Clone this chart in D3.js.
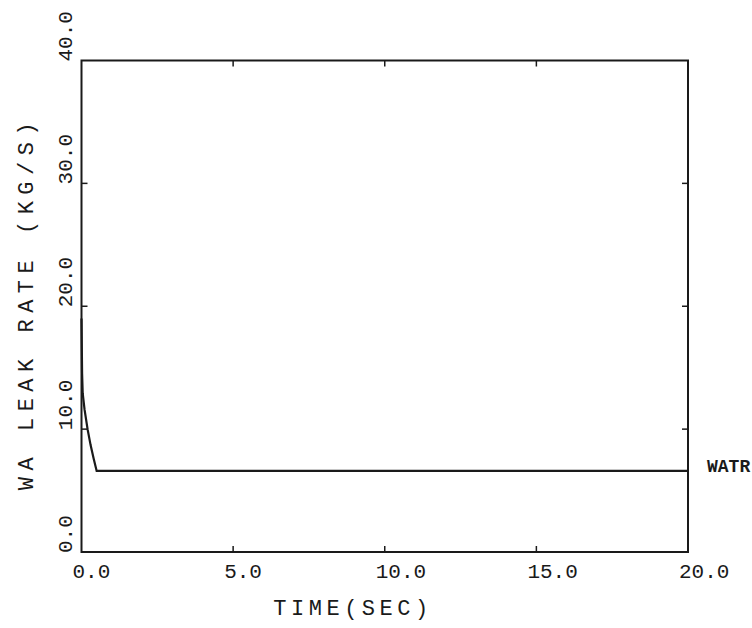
<!DOCTYPE html>
<html>
<head>
<meta charset="utf-8">
<script src="https://cdn.jsdelivr.net/npm/d3@7"></script>
<style>
  body { margin: 0; background: #fff; }
  svg { display: block; }
  text { font-family: "Liberation Mono", "DejaVu Sans Mono", monospace; fill: #1a1a1a; }
</style>
</head>
<body>
<div id="chart"></div>
<script>
// time (s) and water leak rate (kg/s)
var timeSec = [0.0, 0.02, 0.04, 0.1, 0.2, 0.3, 0.4, 0.5, 1.0, 5.0, 10.0, 15.0, 20.0];
var leakRate = [19.0, 14.5, 12.9, 11.6, 10.0, 8.7, 7.6, 6.6, 6.6, 6.6, 6.6, 6.6, 6.6];
var xTicks = [0, 5, 10, 15, 20];
var yTicks = [0, 10, 20, 30, 40];
var seriesName = "WATR";

var W = 752, H = 628;
var pLeft = 81.5, pRight = 688, pTop = 60.5, pBottom = 552;

var svg = d3.select("#chart").append("svg")
    .attr("width", W)
    .attr("height", H);

var x = d3.scaleLinear().domain([0, 20]).range([pLeft, pRight]);
var y = d3.scaleLinear().domain([0, 40]).range([pBottom, pTop]);

var ink = "#1a1a1a";

// frame
svg.append("rect")
    .attr("x", pLeft).attr("y", pTop)
    .attr("width", pRight - pLeft).attr("height", pBottom - pTop)
    .attr("fill", "none").attr("stroke", ink).attr("stroke-width", 2);

// inward ticks on all four sides
var tl = 6;
var innerY = yTicks.slice(1, -1);
svg.selectAll(".ytl").data(innerY).enter().append("line")
    .attr("x1", pLeft).attr("x2", pLeft + tl)
    .attr("y1", d => y(d)).attr("y2", d => y(d))
    .attr("stroke", ink).attr("stroke-width", 1.5);
svg.selectAll(".ytr").data(innerY).enter().append("line")
    .attr("x1", pRight).attr("x2", pRight - tl)
    .attr("y1", d => y(d)).attr("y2", d => y(d))
    .attr("stroke", ink).attr("stroke-width", 1.5);
var innerX = xTicks.slice(1, -1);
svg.selectAll(".xtb").data(innerX).enter().append("line")
    .attr("x1", d => x(d)).attr("x2", d => x(d))
    .attr("y1", pBottom).attr("y2", pBottom - tl)
    .attr("stroke", ink).attr("stroke-width", 1.5);
svg.selectAll(".xtt").data(innerX).enter().append("line")
    .attr("x1", d => x(d)).attr("x2", d => x(d))
    .attr("y1", pTop).attr("y2", pTop + tl)
    .attr("stroke", ink).attr("stroke-width", 1.5);

// x tick labels
svg.selectAll(".xl").data(xTicks).enter().append("text")
    .attr("x", d => x(d) - 9)
    .attr("y", 578)
    .attr("text-anchor", "start")
    .attr("font-size", 21)
    .text(d => d3.format(".1f")(d));

// y tick labels (rotated, starting at the tick)
svg.selectAll(".yl").data(yTicks).enter().append("text")
    .attr("transform", d => "translate(72," + (y(d) + 1) + ") rotate(-90)")
    .attr("text-anchor", "start")
    .attr("font-size", 21)
    .text(d => d3.format(".1f")(d));

// axis titles
svg.append("text")
    .attr("x", 353).attr("y", 615)
    .attr("text-anchor", "middle")
    .attr("font-size", 22)
    .attr("letter-spacing", 4.5)
    .text("TIME(SEC)");

svg.append("text")
    .attr("transform", "translate(33,303) rotate(-90)")
    .attr("text-anchor", "middle")
    .attr("font-size", 22)
    .attr("letter-spacing", 6.5)
    .text("WA LEAK RATE (KG/S)");

// the curve
var line = d3.line()
    .x((d, i) => x(timeSec[i]))
    .y(d => y(d));
svg.append("path")
    .datum(leakRate)
    .attr("d", line)
    .attr("fill", "none")
    .attr("stroke", ink)
    .attr("stroke-width", 2.2);

// series label at right end
svg.append("text")
    .attr("x", 707)
    .attr("y", y(leakRate[leakRate.length - 1]) + 1)
    .attr("font-size", 18)
    .attr("font-weight", "bold")
    .text(seriesName);
</script>
</body>
</html>
